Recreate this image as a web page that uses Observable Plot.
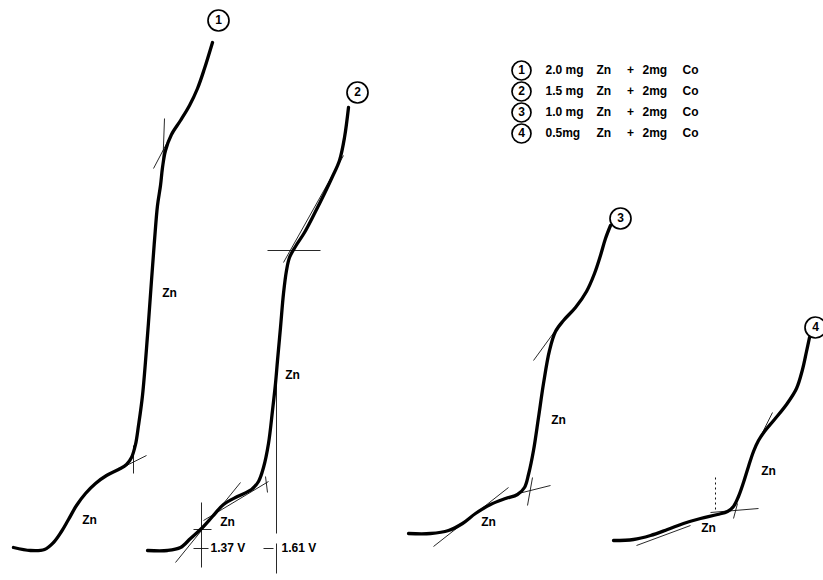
<!DOCTYPE html>
<html>
<head>
<meta charset="utf-8">
<script src="https://cdn.jsdelivr.net/npm/d3@7"></script>
<script src="https://cdn.jsdelivr.net/npm/@observablehq/plot@0.6"></script>
<style>
  html, body { margin: 0; padding: 0; background: #fff; }
  #chart svg { display: block; }
</style>
</head>
<body>
<div id="chart"></div>
<script>
// Polarograms of Zn in the presence of 2 mg Co, four Zn loadings.
// Coordinates are in recorder-sheet units (x: potential sweep, y: pen position, downward).

const curve1 = [[13,547],[30,550],[44,549],[53,542],[61,531],[68,519],[76,505],[85,493],[95,483],[106,475],[118,469],[126,464],[131,457],[135,444],[138,425],[142,395],[147,335],[151,280],[154,240],[157,205],[160,185],[162,167],[165,150],[171,134],[180,120],[189,105],[197,88],[204,68],[212,42]];
const curve2 = [[147,550],[167,550],[180,547],[190,538],[201,528],[212,516],[223,504],[237,496],[251,489],[258,481],[263,467],[268,443],[272,410],[275,383],[277,360],[280,327],[283,293],[286,270],[289,257],[295,246],[304,232],[314,213],[324,193],[332,176],[339,160],[344,137],[348,107]];
const curve3 = [[408,533],[430,533],[448,530],[462,523],[475,513],[490,504],[505,498],[517,494],[524,487],[528,474],[533,450],[538,417],[543,383],[549,350],[555,331],[563,320],[575,307],[586,291],[594,273],[600,255],[605,238],[610,225]];
const curve4 = [[613,540],[633,539],[650,535],[667,529],[683,523],[700,518],[717,514],[727,511],[733,506],[738,496],[743,482],[748,466],[753,451],[758,440],[764,431],[774,419],[786,404],[796,388],[802,369],[806,351],[809,337]];
const curves = [curve1, curve2, curve3, curve4];

// Construction lines: tangents and potential markers [x1, y1, x2, y2]
const guides = [
  [153,168,173,130],[164,118,162,172],[122,467,146,455],[133,445,133,473],
  [175,562,240,482],[203,520,268,481],[201,502,201,567],[193,529,211,529],[193,548,208,548],
  [265,476,267,492],[276,377,276,533],[263,548,273,548],[276,543,276,573],[267,250,320,250],[283,262,343,155],
  [433,546,508,487],[518,493,550,485],[527,505,532,477],[533,360,560,323],
  [636,545,690,525],[710,512,758,508],[733,518,737,503],[757,442,772,412]
];
const dottedGuides = [[715,477,715,510]];

// Curve numbers placed at the top end of each curve
const curveIds = ["1", "2", "3", "4"];
const idPositions = [[218,20],[357,92],[620,218],[815,327]];

// Wave labels (centres)
const waveLabels = [[169,293],[89,520],[292,375],[227,522],[488,522],[558,420],[768,471],[708,528]];

// Half-wave potentials
const potentials = ["1.37 V", "1.61 V"];
const potentialPos = [[210,548],[281,548]];

// Legend
const legendAmounts = ["2.0 mg", "1.5 mg", "1.0 mg", "0.5mg"];
const legendRows = [70, 91, 112, 133];
const legendCircleX = 521;
const legendTextX = 545;

const lineRows = curves.flatMap((c, i) => c.map(([x, y]) => ({x, y, id: curveIds[i]})));
const guideRows = guides.map(([x1, y1, x2, y2]) => ({x1, y1, x2, y2}));
const dottedRows = dottedGuides.map(([x1, y1, x2, y2]) => ({x1, y1, x2, y2}));
const idRows = idPositions.map(([x, y], i) => ({x, y, t: curveIds[i]}));
const legendRowsData = legendRows.map((y, i) => ({y, id: curveIds[i], amt: legendAmounts[i]}));

const font = "Liberation Sans, Arial, sans-serif";
const fs = 12;

const plot = Plot.plot({
  width: 823,
  height: 580,
  margin: 0,
  x: {domain: [0, 823], range: [0, 823], axis: null},
  y: {domain: [0, 580], range: [0, 580], axis: null},
  style: {background: "#fff", fontFamily: font},
  marks: [
    Plot.link(guideRows, {x1: "x1", y1: "y1", x2: "x2", y2: "y2", stroke: "#111", strokeWidth: 0.9}),
    Plot.link(dottedRows, {x1: "x1", y1: "y1", x2: "x2", y2: "y2", stroke: "#111", strokeWidth: 1, strokeDasharray: "2,3"}),
    Plot.line(lineRows, {x: "x", y: "y", z: "id", stroke: "#000", strokeWidth: 3.3, curve: "catmull-rom", strokeLinecap: "round", strokeLinejoin: "round"}),
    Plot.dot(idRows, {x: "x", y: "y", r: 10.5, stroke: "#000", strokeWidth: 1.7, fill: "#fff"}),
    Plot.text(idRows, {x: "x", y: "y", text: "t", fontSize: fs, fontWeight: "bold", fill: "#000"}),
    Plot.text(waveLabels, {x: d => d[0], y: d => d[1], text: () => "Zn", fontSize: fs, fontWeight: "bold", textAnchor: "middle", fill: "#000"}),
    Plot.text(potentialPos, {x: d => d[0], y: d => d[1], text: (d, i) => potentials[i], fontSize: fs, fontWeight: "bold", textAnchor: "start", fill: "#000"}),
    // legend
    Plot.dot(legendRowsData, {x: () => legendCircleX, y: "y", r: 9.5, stroke: "#000", strokeWidth: 1.7, fill: "#fff"}),
    Plot.text(legendRowsData, {x: () => legendCircleX, y: "y", text: "id", fontSize: fs, fontWeight: "bold", fill: "#000"}),
    Plot.text(legendRowsData, {x: () => legendTextX, y: "y", text: "amt", fontSize: fs, fontWeight: "bold", textAnchor: "start", fill: "#000"}),
    Plot.text(legendRowsData, {x: () => legendTextX + 51, y: "y", text: () => "Zn", fontSize: fs, fontWeight: "bold", textAnchor: "start", fill: "#000"}),
    Plot.text(legendRowsData, {x: () => legendTextX + 85, y: "y", text: () => "+", fontSize: fs, fontWeight: "bold", textAnchor: "middle", fill: "#000"}),
    Plot.text(legendRowsData, {x: () => legendTextX + 97, y: "y", text: () => "2mg", fontSize: fs, fontWeight: "bold", textAnchor: "start", fill: "#000"}),
    Plot.text(legendRowsData, {x: () => legendTextX + 137, y: "y", text: () => "Co", fontSize: fs, fontWeight: "bold", textAnchor: "start", fill: "#000"})
  ]
});

document.getElementById("chart").appendChild(plot);
</script>
</body>
</html>
